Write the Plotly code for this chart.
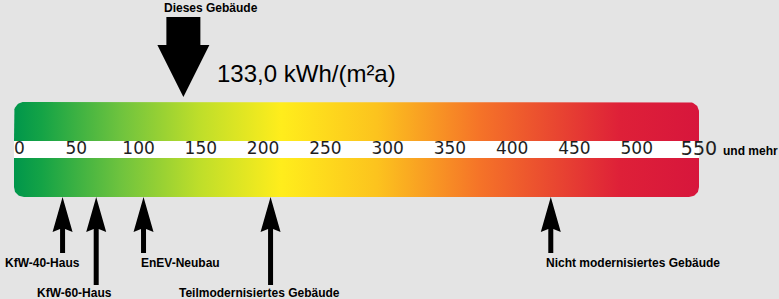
import numpy as np
import plotly.graph_objects as go

# ---- data ----
tick_values = [0, 50, 100, 150, 200, 250, 300, 350, 400, 450, 500, 550]
tick_labels = ["0", "50", "100", "150", "200", "250", "300", "350", "400", "450", "500", "550"]
this_building_value = 133.0          # kWh/(m²a), printed value
this_building_arrow = 136            # arrow position as drawn
ref_names = ["KfW-40-Haus", "KfW-60-Haus", "EnEV-Neubau", "Teilmodernisiertes Gebäude", "Nicht modernisiertes Gebäude"]
ref_positions = [39, 66, 104, 206, 431]

# ---- layout constants (pixels) ----
W, H = 779, 299
X0_PX, X1_PX = 14, 699
SCALE = (X1_PX - X0_PX) / 550.0
xr = [(0 - X0_PX) / SCALE, (W - X0_PX) / SCALE]
BG = "#e4e4e4"

def px(dx):
    return dx / SCALE

gradient = [
    [0.0, "rgb(0,150,75)"],
    [0.04, "rgb(20,163,70)"],
    [0.155, "rgb(110,195,62)"],
    [0.27, "rgb(190,222,42)"],
    [0.39, "rgb(255,237,28)"],
    [0.53, "rgb(252,195,30)"],
    [0.68, "rgb(245,115,40)"],
    [0.885, "rgb(222,32,56)"],
    [1.0, "rgb(215,22,60)"],
]

fig = go.Figure()

def band(ytop, ybot, round_top):
    r = 10
    rx = px(r)
    xa, xb = tick_values[0], tick_values[-1]
    t = np.linspace(0, np.pi / 2, 12)
    xs, ys = [], []
    if round_top:
        xs += [xa]; ys += [ybot]
        xs += list(xa + rx - rx * np.cos(t)); ys += list(ytop + r - r * np.sin(t))
        xs += list(xb - rx + rx * np.sin(t)); ys += list(ytop + r - r * np.cos(t))
        xs += [xb]; ys += [ybot]
    else:
        xs += [xa]; ys += [ytop]
        xs += [xb]; ys += [ytop]
        xs += list(xb - rx + rx * np.cos(t)); ys += list(ybot - r + r * np.sin(t))
        xs += list(xa + rx - rx * np.sin(t)); ys += list(ybot - r + r * np.cos(t))
    xs.append(xs[0]); ys.append(ys[0])
    fig.add_trace(go.Scatter(
        x=xs, y=ys, mode="lines", line=dict(width=0), fill="toself",
        fillgradient=dict(type="horizontal", colorscale=gradient, start=xa, stop=xb),
        hoverinfo="skip", showlegend=False))

band(102, 141, True)
band(158, 197, False)

# white stripe
fig.add_trace(go.Scatter(
    x=[tick_values[0], tick_values[-1], tick_values[-1], tick_values[0], tick_values[0]],
    y=[141, 141, 158, 158, 141], mode="lines", line=dict(width=0),
    fill="toself", fillcolor="white", hoverinfo="skip", showlegend=False))

# tick labels
fig.add_trace(go.Scatter(
    x=tick_values, y=[150] * len(tick_values), mode="text", text=tick_labels,
    textposition=["middle right"] + ["middle center"] * (len(tick_values) - 1),
    textfont=dict(family="DejaVu Sans", size=[17] * (len(tick_values) - 1) + [19], color="#1e1e1e"),
    hoverinfo="skip", showlegend=False))

# big arrow (this building)
c = this_building_arrow
ax = [c - px(17), c + px(17), c + px(17), c + px(26), c, c - px(26), c - px(17), c - px(17)]
ay = [17, 17, 45, 45, 97, 45, 45, 17]
fig.add_trace(go.Scatter(x=ax, y=ay, mode="lines", line=dict(width=0), fill="toself",
                         fillcolor="black", hoverinfo="skip", showlegend=False))

# reference arrows
shaft_bottoms = [253, 285, 253, 285, 253]
for pos, yb in zip(ref_positions, shaft_bottoms):
    bx = [pos, pos + px(10), pos + px(2.5), pos + px(2.5), pos - px(2.5), pos - px(2.5), pos - px(10), pos]
    by = [197, 232, 229, yb, yb, 229, 232, 197]
    fig.add_trace(go.Scatter(x=bx, y=by, mode="lines", line=dict(width=0), fill="toself",
                             fillcolor="black", hoverinfo="skip", showlegend=False))

label_font = dict(family="Liberation Sans", size=12, color="black")
label_y = [263, 293, 263, 293, 263]
label_shift = [-60, -61, -5, -94, -7]
for name, pos, ly, sh in zip(ref_names, ref_positions, label_y, label_shift):
    fig.add_annotation(x=pos, y=ly, text="<b>%s</b>" % name, showarrow=False,
                       xanchor="left", yanchor="middle", xshift=sh, font=label_font)

fig.add_annotation(x=this_building_arrow, y=8, text="<b>Dieses Gebäude</b>", showarrow=False,
                   xanchor="center", yanchor="middle", xshift=28, font=label_font)
fig.add_annotation(x=this_building_arrow, y=73,
                   text=("%.1f" % this_building_value).replace(".", ",") + " kWh/(m²a)",
                   showarrow=False, xanchor="left", yanchor="middle", xshift=32,
                   font=dict(family="Liberation Sans", size=24, color="black"))
fig.add_annotation(x=tick_values[-1], y=151, text="<b>und mehr</b>", showarrow=False,
                   xanchor="left", yanchor="middle", xshift=22, font=label_font)

fig.update_layout(
    width=W, height=H, margin=dict(l=0, r=0, t=0, b=0),
    paper_bgcolor=BG, plot_bgcolor=BG,
    xaxis=dict(range=xr, visible=False, fixedrange=True),
    yaxis=dict(range=[H, 0], visible=False, fixedrange=True),
    showlegend=False,
)

fig.write_html("out.html", config={"displayModeBar": False})
